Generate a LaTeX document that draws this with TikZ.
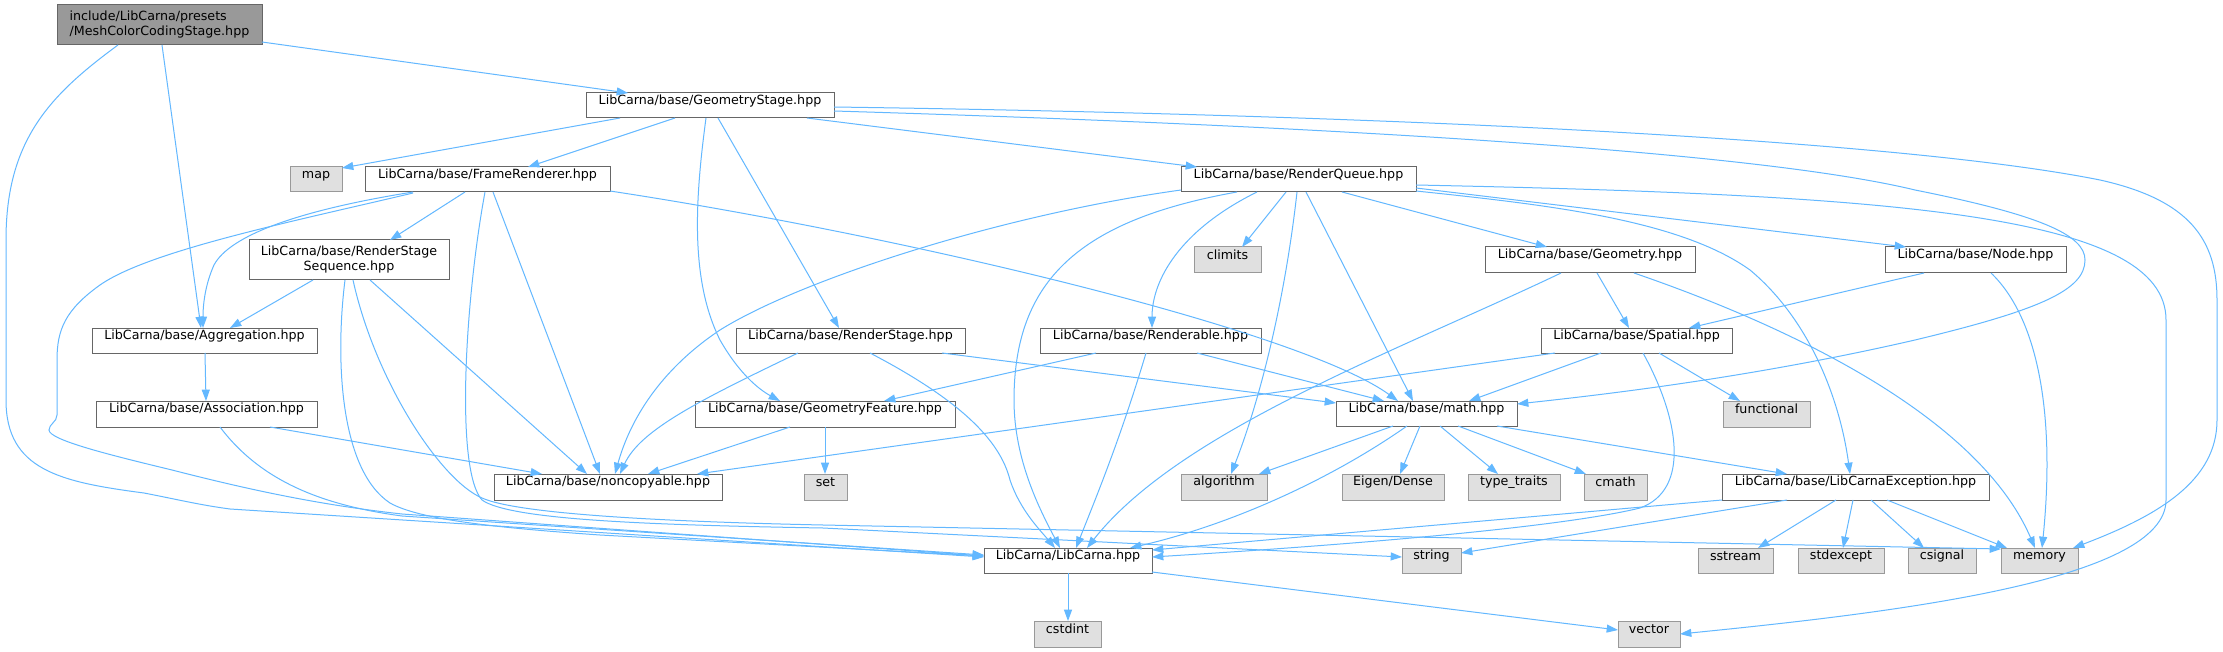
\documentclass[tikz,border=0pt]{standalone}
\usepackage{fontspec}
\setmainfont{DejaVu Sans}
\usetikzlibrary{arrows.meta,calc,fit}
\definecolor{edgec}{HTML}{63B8FF}
\definecolor{bord}{HTML}{666666}
\definecolor{extb}{HTML}{999999}
\definecolor{extf}{HTML}{E0E0E0}
\definecolor{mainf}{HTML}{999999}
\begin{document}
\begin{tikzpicture}[x=0.75pt,y=-0.75pt,
  every node/.style={inner sep=0pt, outer sep=0pt, font=\fontsize{9.5}{11.25}\selectfont, text=black},
  hdr/.style={draw=bord, fill=white, line width=0.75pt},
  ext/.style={draw=extb, fill=extf, line width=0.75pt},
  mainbox/.style={draw=bord, fill=mainf, line width=0.75pt},
  edge/.style={draw=edgec, line width=0.75pt, -{Triangle[length=8.5pt,width=6pt]}},
]
\fill[white] (0,0) rectangle (2223,652);
\useasboundingbox (0,0) rectangle (2223,652);

% nodes
\node[mainbox, minimum width=205*0.75pt, minimum height=40*0.75pt, align=left, anchor=center] (main) at (159.5,25) {include/LibCarna/presets\\/MeshColorCodingStage.hpp};
\node[hdr, fit={(586,93) (834,118)}] (gs) {LibCarna/base/GeometryStage.hpp};
\node[ext, fit={(290,167) (342,192)}] (map) {map};
\node[hdr, fit={(365,167) (610,192)}] (fr) {LibCarna/base/FrameRenderer.hpp};
\node[hdr, fit={(1181,167) (1416,192)}] (rq) {LibCarna/base/RenderQueue.hpp};
\node[hdr, minimum width=200*0.75pt, minimum height=40*0.75pt, align=center, anchor=center] (rss) at (349,260) {LibCarna/base/RenderStage\\Sequence.hpp};
\node[ext, fit={(1194,247) (1261,273)}] (climits) {climits};
\node[hdr, fit={(1485,247) (1695,273)}] (geom) {LibCarna/base/Geometry.hpp};
\node[hdr, fit={(1885,247) (2066,273)}] (nodeh) {LibCarna/base/Node.hpp};
\node[hdr, fit={(92,328) (317,353)}] (agg) {LibCarna/base/Aggregation.hpp};
\node[hdr, fit={(736,328) (965,353)}] (rs) {LibCarna/base/RenderStage.hpp};
\node[hdr, fit={(1040,328) (1261,353)}] (rend) {LibCarna/base/Renderable.hpp};
\node[hdr, fit={(1541,328) (1732,353)}] (spat) {LibCarna/base/Spatial.hpp};
\node[hdr, fit={(96,401) (317,427)}] (assoc) {LibCarna/base/Association.hpp};
\node[hdr, fit={(695,401) (955,427)}] (gf) {LibCarna/base/GeometryFeature.hpp};
\node[hdr, fit={(1336,401) (1517,426)}] (math) {LibCarna/base/math.hpp};
\node[ext, fit={(1723,401) (1810,427)}] (func) {functional};
\node[hdr, fit={(494,474) (722,500)}] (nc) {LibCarna/base/noncopyable.hpp};
\node[ext, fit={(804,474) (847,500)}] (set) {set};
\node[ext, fit={(1181,474) (1267,500)}] (algo) {algorithm};
\node[ext, fit={(1342,474) (1444,500)}] (eigen) {Eigen/Dense};
\node[ext, fit={(1468,474) (1560,500)}] (tt) {type\_traits};
\node[ext, fit={(1584,474) (1647,500)}] (cmath) {cmath};
\node[hdr, fit={(1722,474) (1989,500)}] (lce) {LibCarna/base/LibCarnaException.hpp};
\node[hdr, fit={(984,548) (1152,573)}] (lc) {LibCarna/LibCarna.hpp};
\node[ext, fit={(1402,548) (1461,573)}] (string) {string};
\node[ext, fit={(1698,548) (1773,573)}] (sstream) {sstream};
\node[ext, fit={(1798,548) (1884,573)}] (stdexcept) {stdexcept};
\node[ext, fit={(1908,548) (1976,573)}] (csignal) {csignal};
\node[ext, fit={(2001,548) (2078,573)}] (memory) {memory};
\node[ext, fit={(1034,621) (1101,647)}] (cstdint) {cstdint};
\node[ext, fit={(1618,621) (1680,647)}] (vector) {vector};

% edges from main
\draw[edge] ($(main.north west)+(205,37)$) -- ($(gs.north west)+(42,0)$);
\draw[edge] ($(main.north west)+(105,40)$) -- ($(agg.north west)+(109,0)$);
\draw[edge] ($(main.north west)+(61,40)$) .. controls (50,95) and (6,140) .. (6,240) -- (6,400)
  .. controls (6,470) and (60,482) .. (144,493) .. controls (180,500) and (200,505) .. (230,509)
  -- ($(lc.north west)+(0,9)$);

% GeometryStage
\draw[edge] ($(gs.north west)+(34,25)$) -- ($(map.north west)+(52,1)$);
\draw[edge] ($(gs.north west)+(89,25)$) -- ($(fr.north west)+(163,0)$);
\draw[edge] ($(gs.north west)+(120,25)$) .. controls (695,200) and (690,280) .. (720,340)
  .. controls (740,375) and (760,390) .. ($(gf.north west)+(85,0)$);
\draw[edge] ($(gs.north west)+(132,25)$) -- ($(rs.north west)+(103,0)$);
\draw[edge] ($(gs.north west)+(221,25)$) -- ($(rq.north west)+(16,0)$);
\draw[edge] ($(gs.north west)+(248,18)$) .. controls (1300,125) and (1750,150) .. (1915,190)
  .. controls (2040,215) and (2085,235) .. (2085,260) .. controls (2085,290) and (2040,310) .. (1915,340)
  .. controls (1750,378) and (1600,395) .. ($(math.north west)+(181,3)$);
\draw[edge] ($(gs.north west)+(248,14)$) .. controls (1400,115) and (1900,140) .. (2100,180)
  .. controls (2190,200) and (2217,240) .. (2217,300) -- (2217,420)
  .. controls (2217,480) and (2160,515) .. ($(memory.north west)+(72,0)$);

% FrameRenderer
\draw[edge] ($(fr.north west)+(48,25)$) .. controls (300,210) and (230,235) .. (214,265)
  .. controls (205,285) and (203,305) .. ($(agg.north west)+(111,0)$);
\draw[edge] ($(fr.north west)+(48,26)$) .. controls (300,220) and (150,250) .. (100,285)
  .. controls (65,310) and (57,330) .. (57,360) -- (57,415)
  .. controls (57,422) and (49,424) .. (49,430) .. controls (49,440) and (110,455) .. (172,470)
  .. controls (250,490) and (320,505) .. (402,514) -- ($(lc.north west)+(0,8)$);
\draw[edge] ($(fr.north west)+(100,25)$) -- ($(rss.north west)+(141,0)$);
\draw[edge] ($(fr.north west)+(128,25)$) -- ($(nc.north west)+(106,0)$);
\draw[edge] ($(fr.north west)+(120,25)$) .. controls (465,300) and (455,470) .. (482,500)
  .. controls (510,520) and (650,525) .. (823,528) -- ($(string.north west)+(0,9)$);
\draw[edge] ($(fr.north west)+(245,24)$) .. controls (900,235) and (1300,330) .. ($(math.north west)+(62,0)$);

% RenderStageSequence
\draw[edge] ($(rss.north west)+(64,40)$) -- ($(agg.north west)+(138,0)$);
\draw[edge] ($(rss.north west)+(96,40)$) .. controls (335,360) and (340,470) .. (390,503)
  .. controls (420,520) and (500,528) .. (600,535) -- ($(lc.north west)+(0,8)$);
\draw[edge] ($(rss.north west)+(104,40)$) .. controls (375,380) and (440,480) .. (482,498)
  .. controls (520,515) and (680,522) .. (823,525) -- ($(memory.north west)+(0,1)$);
\draw[edge] ($(rss.north west)+(121,40)$) -- ($(nc.north west)+(93,0)$);

% Aggregation / Association
\draw[edge] ($(agg.north west)+(113,25)$) -- ($(assoc.north west)+(110,0)$);
\draw[edge] ($(assoc.north west)+(174,26)$) -- ($(nc.north west)+(48,0)$);
\draw[edge] ($(assoc.north west)+(124,26)$) .. controls (260,480) and (320,505) .. (402,516)
  -- ($(lc.north west)+(0,7)$);

% GeometryFeature
\draw[edge] ($(gf.north west)+(95,26)$) -- ($(nc.north west)+(154,0)$);
\draw[edge] ($(gf.north west)+(130,26)$) -- ($(set.north west)+(21,0)$);

% RenderStage
\draw[edge] ($(rs.north west)+(62,25)$) .. controls (700,400) and (640,430) .. ($(nc.north west)+(126,0)$);
\draw[edge] ($(rs.north west)+(134,25)$) .. controls (960,400) and (1000,440) .. (1010,480)
  .. controls (1020,510) and (1040,530) .. ($(lc.north west)+(71,0)$);
\draw[edge] ($(rs.north west)+(206,25)$) -- ($(math.north west)+(0,2)$);

% RenderQueue
\draw[edge] ($(rq.north west)+(0,23)$) .. controls (1000,215) and (800,280) .. (720,330)
  .. controls (660,370) and (630,420) .. ($(nc.north west)+(121,0)$);
\draw[edge] ($(rq.north west)+(56,25)$) .. controls (1080,220) and (1014,280) .. (1014,400)
  .. controls (1014,460) and (1040,510) .. ($(lc.north west)+(76,0)$);
\draw[edge] ($(rq.north west)+(76,25)$) .. controls (1180,230) and (1152,280) .. ($(rend.north west)+(112,0)$);
\draw[edge] ($(rq.north west)+(105,25)$) -- ($(climits.north west)+(48,0)$);
\draw[edge] ($(rq.north west)+(116,25)$) .. controls (1285,300) and (1260,400) .. ($(algo.north west)+(50,0)$);
\draw[edge] ($(rq.north west)+(125,25)$) -- ($(math.north west)+(77,0)$);
\draw[edge] ($(rq.north west)+(161,25)$) -- ($(geom.north west)+(62,0)$);
\draw[edge] ($(rq.north west)+(235,21)$) -- ($(nodeh.north west)+(21,0)$);
\draw[edge] ($(rq.north west)+(235,24)$) .. controls (1550,205) and (1680,220) .. (1750,270)
  .. controls (1810,320) and (1840,400) .. ($(lce.north west)+(128,0)$);
\draw[edge] ($(rq.north west)+(235,18)$) .. controls (1900,195) and (2166,215) .. (2166,320) -- (2166,500)
  .. controls (2166,580) and (1900,612) .. ($(vector.north west)+(62,13)$);

% Renderable
\draw[edge] ($(rend.north west)+(56,25)$) -- ($(gf.north west)+(189,0)$);
\draw[edge] ($(rend.north west)+(157,25)$) -- ($(math.north west)+(48,0)$);
\draw[edge] ($(rend.north west)+(106,25)$) .. controls (1120,440) and (1095,500) .. ($(lc.north west)+(92,0)$);

% Geometry
\draw[edge] ($(geom.north west)+(112,26)$) -- ($(spat.north west)+(88,0)$);
\draw[edge] ($(geom.north west)+(149,26)$) .. controls (1800,330) and (1980,420) .. ($(memory.north west)+(34,0)$);
\draw[edge] ($(geom.north west)+(76,26)$) .. controls (1400,350) and (1180,430) .. ($(lc.north west)+(103,0)$);

% Node
\draw[edge] ($(nodeh.north west)+(39,26)$) -- ($(spat.north west)+(148,0)$);
\draw[edge] ($(nodeh.north west)+(106,26)$) .. controls (2040,320) and (2055,420) .. ($(memory.north west)+(41,0)$);

% Spatial
\draw[edge] ($(spat.north west)+(60,25)$) -- ($(math.north west)+(133,0)$);
\draw[edge] ($(spat.north west)+(118,25)$) -- ($(func.north west)+(17,0)$);
\draw[edge] ($(spat.north west)+(14,25)$) -- ($(nc.north west)+(203,0)$);
\draw[edge] ($(spat.north west)+(102,25)$) .. controls (1680,420) and (1690,490) .. (1640,508)
  .. controls (1550,530) and (1300,548) .. ($(lc.north west)+(168,9)$);

% math
\draw[edge] ($(math.north west)+(57,25)$) -- ($(algo.north west)+(78,0)$);
\draw[edge] ($(math.north west)+(84,25)$) -- ($(eigen.north west)+(58,0)$);
\draw[edge] ($(math.north west)+(104,25)$) -- ($(tt.north west)+(30,0)$);
\draw[edge] ($(math.north west)+(122,25)$) -- ($(cmath.north west)+(2,0)$);
\draw[edge] ($(math.north west)+(161,25)$) -- ($(lce.north west)+(65,0)$);
\draw[edge] ($(math.north west)+(71,25)$) .. controls (1330,480) and (1230,525) .. ($(lc.north west)+(146,0)$);

% LibCarnaException
\draw[edge] ($(lce.north west)+(114,26)$) -- ($(sstream.north west)+(60,0)$);
\draw[edge] ($(lce.north west)+(131,26)$) -- ($(stdexcept.north west)+(45,0)$);
\draw[edge] ($(lce.north west)+(149,26)$) -- ($(csignal.north west)+(16,0)$);
\draw[edge] ($(lce.north west)+(165,26)$) -- ($(memory.north west)+(6,0)$);
\draw[edge] ($(lce.north west)+(65,26)$) -- ($(string.north west)+(59,5)$);
\draw[edge] ($(lce.north west)+(0,26)$) -- ($(lc.north west)+(168,2)$);

% LibCarna.hpp
\draw[edge] ($(lc.north west)+(84,25)$) -- ($(cstdint.north west)+(34,0)$);
\draw[edge] ($(lc.north west)+(168,24)$) -- ($(vector.north west)+(0,9)$);
\end{tikzpicture}
\end{document}
